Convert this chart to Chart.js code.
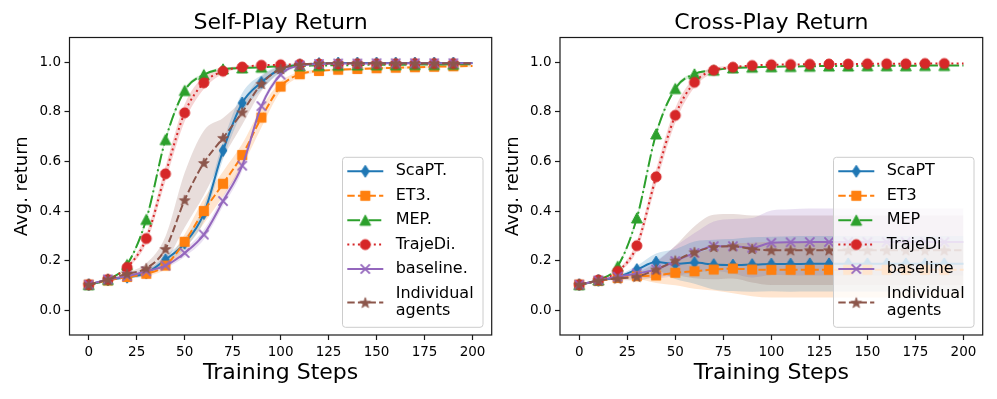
<!DOCTYPE html>
<html><head><meta charset="utf-8">
<script src="https://cdn.jsdelivr.net/npm/chart.js@4"></script>
<style>
html,body{margin:0;padding:0;background:#fff;width:997px;height:399px;overflow:hidden;}
canvas{position:absolute;top:0;}
#c1{left:0px}
#c2{left:497px}
</style></head><body>
<canvas id="c1" width="500" height="399"></canvas>
<canvas id="c2" width="500" height="399"></canvas>
<script>
// ---------------- DATA ----------------
const steps = [0,10,20,30,40,50,60,70,80,90,100,110,120,130,140,150,160,170,180,190,200];
const xTicks = [0,25,50,75,100,125,150,175,200];
const yTicks = [0.0,0.2,0.4,0.6,0.8,1.0];

const selfLabels  = ['ScaPT.','ET3.','MEP.','TrajeDi.','baseline.',['Individual','agents']];
const crossLabels = ['ScaPT','ET3','MEP','TrajeDi','baseline',['Individual','agents']];

// Self-play means
const scaptSelf    = [0.103,0.122,0.133,0.150,0.204,0.270,0.390,0.644,0.836,0.919,0.973,0.990,0.995,0.997,0.997,0.997,0.997,0.997,0.997,0.997,0.997];
const et3Self      = [0.103,0.120,0.134,0.147,0.180,0.276,0.400,0.510,0.626,0.777,0.902,0.952,0.965,0.970,0.973,0.976,0.978,0.980,0.982,0.984,0.985];
const mepSelf      = [0.103,0.124,0.184,0.366,0.688,0.886,0.950,0.973,0.977,0.980,0.984,0.986,0.987,0.988,0.989,0.990,0.990,0.991,0.991,0.992,0.992];
const trajediSelf  = [0.103,0.124,0.173,0.289,0.550,0.796,0.917,0.964,0.981,0.988,0.990,0.992,0.993,0.993,0.994,0.994,0.994,0.995,0.995,0.995,0.995];
const baselineSelf = [0.103,0.124,0.137,0.157,0.180,0.231,0.305,0.440,0.583,0.823,0.950,0.987,0.993,0.995,0.995,0.996,0.996,0.996,0.996,0.996,0.996];
const indivSelf    = [0.103,0.124,0.147,0.169,0.247,0.444,0.594,0.695,0.798,0.913,0.973,0.990,0.995,0.996,0.996,0.996,0.996,0.996,0.996,0.996,0.996];

// Self-play spread (half-width of shaded band)
const scaptSelfSd    = [0,0,0.005,0.010,0.015,0.020,0.030,0.035,0.040,0.030,0.015,0.005,0,0,0,0,0,0,0,0,0];
const et3SelfSd      = [0,0,0.005,0.010,0.015,0.030,0.050,0.050,0.045,0.040,0.020,0.010,0.005,0.005,0.005,0.005,0.005,0.005,0.005,0.005,0.005];
const mepSelfSd      = [0,0,0.005,0.010,0.010,0.010,0.005,0.005,0,0,0,0,0,0,0,0,0,0,0,0,0];
const trajediSelfSd  = [0,0,0.005,0.020,0.030,0.035,0.025,0.010,0.005,0,0,0,0,0,0,0,0,0,0,0,0];
const baselineSelfSd = [0,0,0.005,0.010,0.010,0.015,0.020,0.020,0.020,0.015,0.010,0.005,0,0,0,0,0,0,0,0,0];
const indivSelfSd    = [0,0,0.005,0.020,0.050,0.110,0.130,0.080,0.050,0.030,0.010,0.005,0,0,0,0,0,0,0,0,0];

// Cross-play means
const scaptCross    = [0.103,0.120,0.134,0.164,0.194,0.186,0.192,0.184,0.182,0.184,0.186,0.186,0.187,0.187,0.187,0.187,0.187,0.187,0.187,0.187,0.187];
const et3Cross      = [0.103,0.118,0.130,0.137,0.140,0.151,0.157,0.164,0.168,0.164,0.163,0.163,0.163,0.163,0.163,0.163,0.163,0.163,0.163,0.163,0.163];
const mepCross      = [0.103,0.122,0.177,0.372,0.711,0.894,0.953,0.968,0.977,0.980,0.982,0.983,0.984,0.985,0.985,0.986,0.986,0.986,0.987,0.987,0.987];
const trajediCross  = [0.103,0.122,0.157,0.260,0.538,0.786,0.919,0.968,0.980,0.987,0.990,0.991,0.992,0.993,0.993,0.994,0.994,0.994,0.995,0.995,0.995];
const baselineCross = [0.103,0.120,0.135,0.148,0.164,0.198,0.231,0.258,0.258,0.252,0.272,0.274,0.275,0.275,0.275,0.275,0.275,0.275,0.275,0.275,0.275];
const indivCross    = [0.103,0.120,0.128,0.135,0.164,0.200,0.234,0.255,0.258,0.247,0.242,0.242,0.242,0.242,0.242,0.242,0.242,0.242,0.242,0.242,0.242];

// Cross-play spread
const scaptCrossSd    = [0,0.003,0.006,0.015,0.035,0.060,0.085,0.100,0.105,0.110,0.110,0.112,0.112,0.112,0.112,0.112,0.112,0.112,0.112,0.112,0.112];
const et3CrossSd      = [0,0.003,0.006,0.012,0.030,0.050,0.070,0.085,0.100,0.108,0.112,0.112,0.112,0.112,0.112,0.112,0.112,0.112,0.112,0.112,0.112];
const mepCrossSd      = [0,0,0.005,0.010,0.010,0.010,0.005,0.003,0,0,0,0,0,0,0,0,0,0,0,0,0];
const trajediCrossSd  = [0,0,0.005,0.020,0.030,0.030,0.020,0.010,0.005,0,0,0,0,0,0,0,0,0,0,0,0];
const baselineCrossSd = [0,0.003,0.006,0.015,0.035,0.060,0.080,0.100,0.110,0.120,0.130,0.133,0.135,0.135,0.135,0.135,0.135,0.135,0.135,0.135,0.135];
const indivCrossSd    = [0,0.003,0.006,0.015,0.030,0.060,0.105,0.130,0.130,0.135,0.140,0.140,0.140,0.140,0.140,0.140,0.140,0.140,0.140,0.140,0.140];

// ---------------- STYLE ----------------
const FONT = '"DejaVu Sans", "Liberation Sans", sans-serif';
const STYLES = [
  {color:'#1f77b4', marker:'diamond',  dash:[]},
  {color:'#ff7f0e', marker:'square',   dash:[7.4,3.2]},
  {color:'#2ca02c', marker:'triangle', dash:[12.8,3.2,2,3.2]},
  {color:'#d62728', marker:'circle',   dash:[2,3.3]},
  {color:'#9467bd', marker:'x',        dash:[]},
  {color:'#8c564b', marker:'star',     dash:[7.4,3.2]},
];

function rgba(hex, a){
  const n = parseInt(hex.slice(1),16);
  return `rgba(${(n>>16)&255},${(n>>8)&255},${n&255},${a})`;
}

function makeMarker(kind, color){
  const s = 16, c = document.createElement('canvas');
  c.width = s; c.height = s;
  const g = c.getContext('2d');
  g.translate(s/2, s/2);
  g.fillStyle = color; g.strokeStyle = color; g.lineWidth = 1; g.lineJoin = 'miter';
  g.beginPath();
  if (kind === 'diamond'){
    g.moveTo(0,-6); g.lineTo(3.9,0); g.lineTo(0,6); g.lineTo(-3.9,0); g.closePath(); g.fill(); g.stroke();
  } else if (kind === 'square'){
    g.rect(-4.6,-4.6,9.2,9.2); g.fill(); g.stroke();
  } else if (kind === 'triangle'){
    g.moveTo(0,-5.2); g.lineTo(5.4,5.0); g.lineTo(-5.4,5.0); g.closePath(); g.fill(); g.stroke();
  } else if (kind === 'circle'){
    g.arc(0,0,5.0,0,Math.PI*2); g.fill(); g.stroke();
  } else if (kind === 'x'){
    g.lineWidth = 1.8; g.lineCap = 'butt';
    g.moveTo(-4.6,-4.6); g.lineTo(4.6,4.6); g.moveTo(4.6,-4.6); g.lineTo(-4.6,4.6); g.stroke();
  } else if (kind === 'star'){
    const R = 5.6, r = 2.3;
    g.lineWidth = 0.8;
    for (let i=0;i<10;i++){
      const ang = -Math.PI/2 + i*Math.PI/5;
      const rad = (i%2===0)?R:r;
      const px = rad*Math.cos(ang), py = rad*Math.sin(ang)+0.5;
      if (i===0) g.moveTo(px,py); else g.lineTo(px,py);
    }
    g.closePath(); g.fill(); g.stroke();
  }
  return c;
}
const MARKERS = STYLES.map(s => makeMarker(s.marker, s.color));

// ---------------- PLUGIN: spines + legend ----------------
const framePlugin = {
  id: 'frameLegend',
  afterDraw(chart){
    const {ctx, chartArea:a} = chart;
    const labels = chart.options.plugins.frameLegend.labels;
    ctx.save();
    // spines
    ctx.strokeStyle = '#1a1a1a'; ctx.lineWidth = 1.2; ctx.setLineDash([]);
    ctx.strokeRect(a.left, a.top, a.right - a.left, a.bottom - a.top);
    // legend box
    const w = 140.5, h = 170;
    const x0 = a.right - 8.7 - w, y0 = a.bottom - 7.7 - h;
    const r = 3;
    ctx.beginPath();
    ctx.moveTo(x0+r, y0); ctx.lineTo(x0+w-r, y0); ctx.arcTo(x0+w, y0, x0+w, y0+r, r);
    ctx.lineTo(x0+w, y0+h-r); ctx.arcTo(x0+w, y0+h, x0+w-r, y0+h, r);
    ctx.lineTo(x0+r, y0+h); ctx.arcTo(x0, y0+h, x0, y0+h-r, r);
    ctx.lineTo(x0, y0+r); ctx.arcTo(x0, y0, x0+r, y0, r); ctx.closePath();
    ctx.fillStyle = 'rgba(255,255,255,0.8)'; ctx.fill();
    ctx.strokeStyle = '#cccccc'; ctx.lineWidth = 1; ctx.stroke();
    const rows = [14, 38.5, 63, 87.3, 111.7, 145.3];
    ctx.font = '16px ' + FONT;
    ctx.textBaseline = 'middle'; ctx.textAlign = 'left';
    labels.forEach((lab, k) => {
      const yy = y0 + rows[k];
      const st = STYLES[k];
      ctx.strokeStyle = st.color; ctx.lineWidth = 2; ctx.setLineDash(st.dash); ctx.lineCap = 'butt';
      ctx.beginPath(); ctx.moveTo(x0+4.8, yy); ctx.lineTo(x0+40.8, yy); ctx.stroke();
      ctx.setLineDash([]);
      const m = MARKERS[k];
      ctx.drawImage(m, x0+22.8 - m.width/2, yy - m.height/2);
      ctx.fillStyle = '#000';
      if (Array.isArray(lab)){
        ctx.fillText(lab[0], x0+53.2, y0+136.5);
        ctx.fillText(lab[1], x0+53.2, y0+154);
      } else {
        ctx.fillText(lab, x0+53.2, yy);
      }
    });
    ctx.restore();
  }
};

// ---------------- BUILD ----------------
function buildDatasets(means, sds){
  const ds = [];
  means.forEach((m, k) => {
    const sd = sds[k];
    ds.push({data: steps.map((x,i)=>({x, y:m[i]+sd[i]})), fill:'+1', backgroundColor: rgba(STYLES[k].color,0.2),
      borderWidth:0, pointRadius:0, order:20, cubicInterpolationMode:'monotone'});
    ds.push({data: steps.map((x,i)=>({x, y:m[i]-sd[i]})), fill:false, backgroundColor:'transparent',
      borderWidth:0, pointRadius:0, order:20, cubicInterpolationMode:'monotone'});
  });
  means.forEach((m, k) => {
    const st = STYLES[k];
    ds.push({data: steps.map((x,i)=>({x, y:m[i]})), fill:false, borderColor: st.color, backgroundColor: st.color,
      borderWidth:2, borderDash: st.dash, pointStyle: MARKERS[k],
      pointRadius: steps.map((x,i)=> i === steps.length-1 ? 0 : 5),
      order: 6-k, cubicInterpolationMode:'monotone'});
  });
  return ds;
}

function makeChart(id, title, means, sds, labels, yWidth, padRight, yTitlePad){
  return new Chart(document.getElementById(id), {
    type:'line',
    data:{datasets: buildDatasets(means, sds)},
    options:{
      responsive:false, animation:false, events:[],
      layout:{padding:{left:0, right:padRight, top:0, bottom:0}},
      plugins:{
        legend:{display:false}, tooltip:{enabled:false},
        title:{display:true, fullSize:false, text:title, color:'#000', font:{family:FONT, size:22, weight:'normal'}, padding:{top:10, bottom:1.1}},
        frameLegend:{labels}
      },
      scales:{
        x:{type:'linear', min:-10, max:210,
          afterBuildTicks: s => { s.ticks = xTicks.map(v => ({value:v})); },
          afterFit: s => { s.height = 64; },
          grid:{drawOnChartArea:false, drawTicks:true, tickLength:5, tickColor:'#1a1a1a', tickWidth:1.2},
          border:{display:false},
          ticks:{color:'#000', font:{family:FONT, size:13.5}, padding:4, maxRotation:0, autoSkip:false, callback: v => String(v)},
          title:{display:true, text:'Training Steps', color:'#000', font:{family:FONT, size:22}, padding:{top:0, bottom:12.8}}
        },
        y:{type:'linear', min:-0.1, max:1.1,
          afterBuildTicks: s => { s.ticks = yTicks.map(v => ({value:v})); },
          afterFit: s => { s.width = yWidth; },
          grid:{drawOnChartArea:false, drawTicks:true, tickLength:5, tickColor:'#1a1a1a', tickWidth:1.2},
          border:{display:false},
          ticks:{color:'#000', font:{family:FONT, size:13.5}, padding:3.5, autoSkip:false, callback: v => Number(v).toFixed(1)},
          title:{display:true, text:'Avg. return', color:'#000', font:{family:FONT, size:18}, padding:{top:yTitlePad, bottom:0}}
        }
      }
    },
    plugins:[framePlugin]
  });
}

makeChart('c1', 'Self-Play Return',
  [scaptSelf, et3Self, mepSelf, trajediSelf, baselineSelf, indivSelf],
  [scaptSelfSd, et3SelfSd, mepSelfSd, trajediSelfSd, baselineSelfSd, indivSelfSd],
  selfLabels, 69.5, 8.3, 11.7);
makeChart('c2', 'Cross-Play Return',
  [scaptCross, et3Cross, mepCross, trajediCross, baselineCross, indivCross],
  [scaptCrossSd, et3CrossSd, mepCrossSd, trajediCrossSd, baselineCrossSd, indivCrossSd],
  crossLabels, 63, 14.3, 5.2);
</script>
</body></html>
